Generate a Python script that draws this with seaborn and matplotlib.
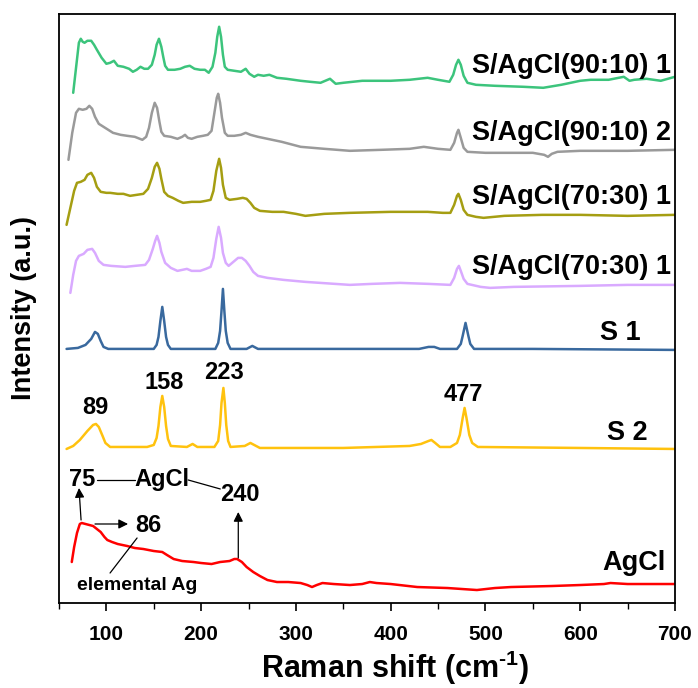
import numpy as np
import pandas as pd
import matplotlib
matplotlib.use("Agg")
import matplotlib.pyplot as plt
from matplotlib.ticker import MultipleLocator
import seaborn as sns

# spectra, (Raman shift, stacked intensity a.u.)
green = [(65, 510), (68, 535), (71, 560), (73, 564), (75, 561), (77, 560), (80, 562), (84, 562), (87, 558),
         (90, 553), (95, 545), (100, 539), (104, 540), (108, 542), (112, 537), (118, 536), (124, 534), (128, 531),
         (132, 533), (136, 536), (140, 534), (144, 534), (148, 538), (151, 548), (153, 558), (155.5, 564),
         (158, 556), (160, 546), (162, 537), (165, 533), (172, 533), (178, 534), (183, 536), (188, 537),
         (193, 534), (199, 533), (204, 533), (208, 530), (212, 536), (215, 550), (217, 566), (219, 576),
         (221, 566), (223, 548), (225, 536), (228, 533), (235, 532), (242, 531), (247, 534), (251, 529),
         (256, 526), (260, 528), (266, 527), (272, 528), (280, 525), (290, 524), (305, 522), (315, 521),
         (326, 520), (336, 524), (342, 519), (350, 520), (370, 522), (400, 522), (420, 523), (439, 525),
         (450, 523), (462, 521), (466, 528), (469, 538), (471.5, 543), (474, 538), (477, 527), (481, 520),
         (490, 518), (510, 517), (540, 516), (561, 515), (580, 518), (600, 522), (611, 523), (630, 523),
         (646, 526), (652, 522), (657, 523), (670, 524), (685, 522), (700, 526)]

gray = [(60, 443), (64, 470), (68, 490), (71, 494), (75, 493), (79, 494), (82, 497), (85, 494), (88, 486),
        (92, 479), (97, 476), (102, 473), (107, 470), (115, 468), (122, 467), (130, 466), (138, 463), (142, 466),
        (145, 475), (148, 490), (151, 500), (153.5, 495), (156, 481), (158, 471), (161, 467), (168, 466),
        (175, 464), (180, 466), (183, 468), (186, 465), (190, 464), (196, 466), (202, 467), (207, 468),
        (211, 472), (214, 490), (216.5, 505), (218, 509), (220, 500), (222, 485), (225, 470), (228, 467),
        (235, 467), (242, 468), (247, 470), (252, 468), (260, 466), (270, 464), (285, 461), (305, 456),
        (330, 454), (357, 452), (390, 453), (420, 454), (435, 456), (450, 454), (463, 453), (467, 460),
        (470, 470), (471.5, 473), (474, 465), (477, 455), (481, 451), (500, 450), (534, 450), (550, 450),
        (562, 448), (566, 446), (570, 449), (576, 451), (600, 452), (650, 452), (700, 453)]

olive = [(58, 378), (62, 395), (66, 412), (69, 420), (73, 421), (77, 423), (80, 428), (84, 430), (87, 425),
         (90, 416), (94, 411), (100, 410), (104, 410), (112, 409), (118, 409), (125, 407), (132, 408), (139, 409),
         (144, 414), (148, 425), (151, 436), (153.5, 440), (156, 434), (158, 424), (161, 411), (165, 407),
         (170, 405), (176, 402), (181, 400), (190, 401), (199, 401), (205, 402), (210, 403), (213, 412),
         (216, 432), (219, 444), (221, 435), (223, 418), (226, 405), (230, 403), (238, 404), (244, 405),
         (248, 404), (252, 400), (256, 395), (262, 392), (275, 391), (287, 391), (300, 389), (310, 387),
         (330, 389), (357, 390), (400, 391), (439, 391), (455, 390), (463, 390), (467, 398), (470, 407),
         (471.5, 409), (474, 403), (477, 393), (481, 388), (490, 386), (498, 385), (520, 387), (560, 388),
         (600, 388), (650, 387), (700, 388)]

violet = [(62, 310), (65, 328), (68, 342), (71, 347), (76, 349), (80, 353), (85, 354), (88, 350), (92, 342),
          (97, 338), (105, 337), (120, 336), (130, 337), (141, 338), (145, 343), (149, 354), (151.5, 362),
          (153.5, 367), (156, 360), (158, 351), (162, 340), (168, 335), (175, 332), (180, 333), (185, 334),
          (190, 332), (199, 332), (205, 334), (210, 336), (213, 345), (216, 364), (218.5, 376), (221, 365),
          (223, 350), (226, 340), (229, 337), (234, 341), (239, 345), (243, 345), (247, 342), (251, 337),
          (255, 331), (260, 327), (270, 325), (287, 323), (310, 321), (357, 318), (380, 319), (410, 320),
          (440, 319), (463, 318), (467, 325), (470, 334), (472, 337), (474, 332), (477, 324), (481, 319),
          (495, 316), (505, 315), (530, 316), (600, 317), (650, 318), (700, 318)]

s1 = [(58, 254), (70, 255), (78, 258), (84, 264), (88, 271), (91, 269), (94, 262), (97, 256), (102, 254),
      (130, 254), (150, 254), (153, 258), (155, 266), (157, 282), (159, 296), (161, 282), (163, 266), (165, 258),
      (168, 254), (190, 254), (215, 254), (218, 260), (220, 272), (221.5, 292), (223, 314), (224.5, 292),
      (226, 272), (228, 260), (231, 254), (248, 254), (254, 257), (260, 254), (300, 254), (400, 254),
      (430, 254), (440, 256), (446, 256), (452, 254), (470, 254), (474, 259), (476, 267), (479, 280),
      (482, 267), (484, 259), (488, 254), (550, 254), (700, 253)]

s2 = [(58, 154), (65, 157), (72, 163), (80, 172), (86, 178), (89, 179), (92, 176), (96, 167), (99, 160),
      (104, 156), (130, 156), (143, 156), (150, 158), (153, 165), (155, 177), (157, 196), (159, 207), (161, 196),
      (163, 177), (165, 164), (168, 157), (185, 156), (191, 159), (196, 156), (214, 156), (218, 162), (220, 178),
      (221.5, 200), (223.5, 215), (225, 200), (226.5, 178), (228.5, 162), (231, 156), (246, 157), (252, 160),
      (258, 157), (262, 155), (350, 155), (420, 157), (432, 159), (440, 162), (443, 163), (447, 160),
      (452, 156), (463, 156), (470, 160), (473, 168), (476, 185), (478, 195), (480, 185), (483, 168),
      (486, 160), (492, 156), (600, 155), (700, 154)]

agcl = [(63.5, 41), (66, 56), (69, 70), (72, 79), (74, 80), (78, 79), (82, 78), (86, 77), (90, 74), (94, 71),
        (98, 66), (101, 63), (106, 61), (112, 59), (122, 57), (130, 55), (139, 54), (150, 52), (159, 51),
        (164, 48), (171, 44), (180, 42), (192, 41), (200, 40), (211, 39), (220, 41), (230, 42), (235, 44),
        (238, 44), (243, 41), (248, 36), (255, 31), (262, 27), (270, 23), (280, 21), (292, 21), (305, 20),
        (312, 18), (317, 16), (322, 18), (328, 20), (340, 19), (357, 18), (370, 19), (378, 21), (385, 20),
        (400, 19), (428, 16), (460, 15), (491, 13), (510, 15), (527, 16), (570, 17), (600, 18), (625, 19),
        (632, 20), (650, 19), (700, 19)]

labels = ["S/AgCl(90:10) 1", "S/AgCl(90:10) 2", "S/AgCl(70:30) 1", "S/AgCl(70:30) 1", "S 1", "S 2", "AgCl"]
colors = ["#3cc47c", "#9a9a9a", "#a59e12", "#d9aaff", "#39699e", "#ffc20e", "#ff0000"]
spectra = [green, gray, olive, violet, s1, s2, agcl]
# where each name sits (right end x, y)
label_pos = [(696, 537), (696, 470), (696, 406), (696, 336), (664, 270), (671, 170), (690, 40)]

peaks = ["89", "158", "223", "477"]
peak_pos = [(88, 195), (161, 220), (224.4, 230), (477, 208)]

sns.set_theme(style="white")
plt.rcParams['font.family'] = ['Liberation Sans', 'DejaVu Sans']
plt.rcParams['font.weight'] = 'bold'
plt.rcParams['text.color'] = 'black'
plt.rcParams['axes.labelcolor'] = 'black'
plt.rcParams['xtick.color'] = 'black'
plt.rcParams['mathtext.fontset'] = 'custom'
plt.rcParams['mathtext.rm'] = 'Liberation Sans:bold'
plt.rcParams['mathtext.bf'] = 'Liberation Sans:bold'
plt.rcParams['mathtext.default'] = 'bf'

fig = plt.figure(figsize=(6.98, 6.88), dpi=100)
ax = fig.add_axes([0.0845, 0.1235, 0.8825, 0.8565])

for c, pts in zip(colors, spectra):
    df = pd.DataFrame(pts, columns=['x', 'y'])
    sns.lineplot(data=df, x='x', y='y', ax=ax, color=c, linewidth=1.8, estimator=None, sort=False)

for name, (lx, ly) in zip(labels, label_pos):
    ax.text(lx, ly, name, ha='right', va='center', fontsize=19.5, fontweight='bold')

for p, (px, py) in zip(peaks, peak_pos):
    ax.text(px, py, p, ha='center', va='center', fontsize=17, fontweight='bold')

# AgCl annotations
ax.text(74.3, 123, "75", ha='center', va='center', fontsize=17, fontweight='bold')
ax.text(158.9, 123, "AgCl", ha='center', va='center', fontsize=17, fontweight='bold')
ax.text(241.3, 108, "240", ha='center', va='center', fontsize=17, fontweight='bold')
ax.text(144, 77, "86", ha='center', va='center', fontsize=17, fontweight='bold')
ax.text(132.4, 18, "elemental Ag", ha='center', va='center', fontsize=14, fontweight='bold')
ax.plot([90.2, 130.3], [123, 123], color='black', lw=0.9)
ax.plot([186.3, 220.2], [123, 114], color='black', lw=0.9)
ax.plot([103.9, 132.4], [30, 65], color='black', lw=0.9)
arrow = dict(arrowstyle='-|>', color='black', lw=0.9, mutation_scale=14, shrinkA=0, shrinkB=0)
ax.annotate("", xy=(71.1, 115), xytext=(73.3, 83), arrowprops=arrow)
ax.annotate("", xy=(122.9, 79), xytext=(88, 79), arrowprops=arrow)
ax.annotate("", xy=(239.2, 91), xytext=(239.2, 45), arrowprops=arrow)

ax.set_xlim(50, 700)
ax.set_ylim(0, 589)
ax.set_yticks([])
ax.xaxis.set_major_locator(MultipleLocator(100))
ax.xaxis.set_minor_locator(MultipleLocator(50))
ax.tick_params(axis='x', which='major', direction='out', length=6, width=1.2, bottom=True,
               labelsize=15, pad=10)
ax.tick_params(axis='x', which='minor', direction='out', length=4, width=1.0, bottom=True)
for lab in ax.get_xticklabels():
    lab.set_fontweight('bold')
for sp in ax.spines.values():
    sp.set_color('black')
    sp.set_linewidth(1.3)

ax.set_xlabel("Raman shift (cm$^{\\text{-1}}$)", fontsize=22, fontweight='bold')
ax.xaxis.set_label_coords(0.545, -0.078)
ax.set_ylabel("Intensity (a.u.)", fontsize=19.5, fontweight='bold')
ax.yaxis.set_label_coords(-0.035, 0.5)

fig.savefig("out.png", dpi=100)
